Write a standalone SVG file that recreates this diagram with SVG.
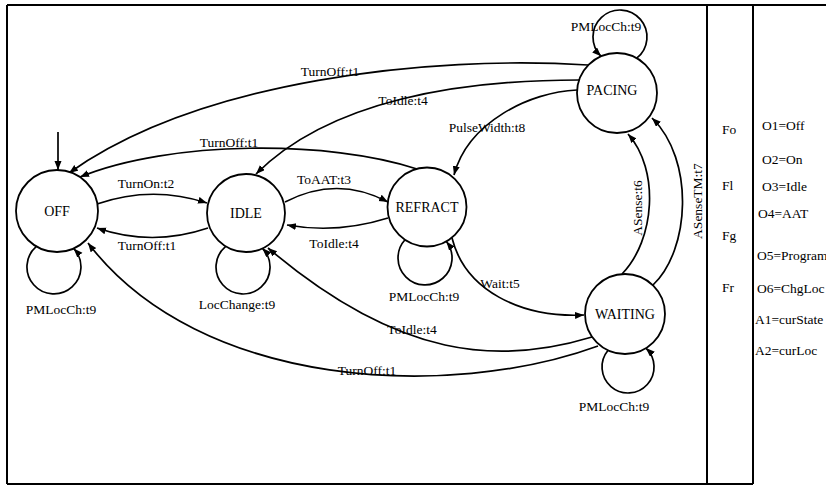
<svg xmlns="http://www.w3.org/2000/svg" width="826" height="486" viewBox="0 0 826 486">
  <style>
    .frame { stroke: #000; stroke-width: 2; fill: none; }
    .state circle { fill: #fff; stroke: #000; stroke-width: 1.8; }
    .edge { fill: none; stroke: #000; stroke-width: 1.7; marker-end: url(#arrow); }
    text { font-family: "Liberation Serif", "Times New Roman", serif; font-size: 13.5px; fill: #000; }
    .name { text-anchor: middle; font-size: 14px; }
    .lbl { text-anchor: middle; }
    .side { font-size: 13px; }
  </style>
  <defs>
    <marker id="arrow" markerUnits="userSpaceOnUse" markerWidth="10" markerHeight="8" refX="9" refY="3.5" orient="auto">
      <path d="M0,0 L9,3.5 L0,7 z" fill="#000"/>
    </marker>
  </defs>

  <rect width="826" height="486" fill="#fff"/>

  <!-- outer frame and side columns -->
  <g id="frame">
    <line class="frame" x1="7" y1="5" x2="826" y2="5"/>
    <line class="frame" x1="7" y1="5" x2="7" y2="484"/>
    <line class="frame" x1="7" y1="484" x2="753" y2="484"/>
    <line class="frame" x1="707" y1="5" x2="707" y2="484"/>
    <line class="frame" x1="753" y1="5" x2="753" y2="484"/>
  </g>

  <!-- transitions -->
  <g id="connectors">
    <!-- initial -->
    <line class="edge" x1="58" y1="132" x2="58" y2="170"/>
    <!-- OFF <-> IDLE -->
    <path class="edge" d="M97,204 Q152,185 207,203"/>
    <path class="edge" d="M208,228 Q152,247 97,228"/>
    <!-- IDLE <-> REFRACT -->
    <path class="edge" d="M285,202 Q337,175 388,202"/>
    <path class="edge" d="M388,218 Q337,234 287,225"/>
    <!-- REFRACT -> OFF -->
    <path class="edge" d="M417,169 C330,140 170,140 80,177"/>
    <!-- PACING -> OFF -->
    <path class="edge" d="M588,65 C430,55 200,80 69,173"/>
    <!-- PACING -> IDLE -->
    <path class="edge" d="M579,80 C460,80 330,100 256,174"/>
    <!-- PACING -> REFRACT -->
    <path class="edge" d="M577,90 C530,92 468,122 454,175"/>
    <!-- REFRACT -> WAITING -->
    <path class="edge" d="M452,238 C465,290 520,318 584,315"/>
    <!-- WAITING -> IDLE -->
    <path class="edge" d="M592,337 C500,365 400,360 268,248"/>
    <!-- WAITING -> OFF -->
    <path class="edge" d="M598,346 C450,400 200,390 88,243"/>
    <!-- WAITING -> PACING -->
    <path class="edge" d="M622,274 C655,240 660,170 628,134"/>
    <path class="edge" d="M653,285 C690,250 695,160 652,118"/>
    <!-- self loops -->
    <path class="edge" d="M36.4,246.4 A27,27 0 1 0 73.7,248.5"/>
    <path class="edge" d="M225.7,246.3 A27,27 0 1 0 262.5,248.3"/>
    <path class="edge" d="M405,239.8 A27,27 0 1 0 446.4,241.4"/>
    <path class="edge" d="M608.1,350.3 A26,26 0 1 0 645.9,348.1"/>
    <path class="edge" d="M636.7,58.2 A27,27 0 1 0 601.1,56.3"/>
  </g>

  <!-- transition labels -->
  <g id="labels">
    <text class="lbl" x="146" y="188">TurnOn:t2</text>
    <text class="lbl" x="147" y="250">TurnOff:t1</text>
    <text class="lbl" x="324" y="184">ToAAT:t3</text>
    <text class="lbl" x="334" y="248">ToIdle:t4</text>
    <text class="lbl" x="229" y="147">TurnOff:t1</text>
    <text class="lbl" x="330" y="76">TurnOff:t1</text>
    <text class="lbl" x="403" y="105">ToIdle:t4</text>
    <text class="lbl" x="487" y="132">PulseWidth:t8</text>
    <text class="lbl" x="500" y="288">Wait:t5</text>
    <text class="lbl" x="412" y="334">ToIdle:t4</text>
    <text class="lbl" x="367" y="375">TurnOff:t1</text>
    <text class="lbl" transform="translate(642,208) rotate(-90)">ASense:t6</text>
    <text class="lbl" transform="translate(702,201) rotate(-90)">ASenseTM:t7</text>
    <text class="lbl" x="61" y="314">PMLocCh:t9</text>
    <text class="lbl" x="237" y="309">LocChange:t9</text>
    <text class="lbl" x="424" y="301">PMLocCh:t9</text>
    <text class="lbl" x="614" y="411">PMLocCh:t9</text>
    <text class="lbl" x="606" y="31">PMLocCh:t9</text>
  </g>

  <!-- states -->
  <g id="OFF" class="state">
    <circle cx="57" cy="211" r="41"/>
    <text class="name" x="57" y="216">OFF</text>
  </g>
  <g id="IDLE" class="state">
    <circle cx="246" cy="213" r="39"/>
    <text class="name" x="246" y="218">IDLE</text>
  </g>
  <g id="REFRACT" class="state">
    <circle cx="427" cy="207" r="39.5"/>
    <text class="name" x="427" y="212">REFRACT</text>
  </g>
  <g id="PACING" class="state">
    <circle cx="617" cy="93" r="40"/>
    <text class="name" x="612" y="95">PACING</text>
  </g>
  <g id="WAITING" class="state">
    <circle cx="625" cy="314" r="40"/>
    <text class="name" x="625" y="319">WAITING</text>
  </g>

  <!-- side tables -->
  <g id="flags" class="side">
    <text x="722" y="134">Fo</text>
    <text x="722" y="190">Fl</text>
    <text x="722" y="240">Fg</text>
    <text x="722" y="292">Fr</text>
  </g>
  <g id="outputs" class="side">
    <text x="762" y="130">O1=Off</text>
    <text x="762" y="164">O2=On</text>
    <text x="762" y="191">O3=Idle</text>
    <text x="758" y="218">O4=AAT</text>
    <text x="757" y="260" font-size="11.5">O5=Program</text>
    <text x="757" y="293" font-size="12.5">O6=ChgLoc</text>
    <text x="755" y="324" font-size="12.5">A1=curState</text>
    <text x="755" y="355">A2=curLoc</text>
  </g>
</svg>
